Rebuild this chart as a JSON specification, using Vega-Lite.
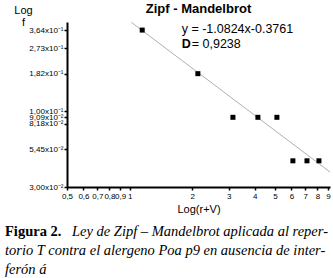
{
  "$schema": "https://vega.github.io/schema/vega-lite/v6.json",
  "padding": {"left": 5, "top": 3, "right": 0, "bottom": 0},
  "background": "white",
  "config": {"view": {"stroke": null}, "font": "Liberation Sans", "concat": {"spacing": 10}},
  "datasets": {
    "points": [
      {"x": 1.15, "f": 0.364},
      {"x": 2.13, "f": 0.182},
      {"x": 3.14, "f": 0.0909},
      {"x": 4.14, "f": 0.0909},
      {"x": 5.11, "f": 0.0909},
      {"x": 6.1, "f": 0.0455},
      {"x": 7.13, "f": 0.0455},
      {"x": 8.14, "f": 0.0455}
    ],
    "fit": [
      {"x": 1.02, "f": 0.4116},
      {"x": 9.2, "f": 0.03808}
    ],
    "eq": [
      {"x": 1.78, "f": 0.371, "t": "y = -1.0824x-0.3761"}
    ],
    "dlabel": [
      {"x": 1.78, "f": 0.293, "t": "D"}
    ],
    "dvalue": [
      {"x": 1.99, "f": 0.293, "t": "= 0,9238"}
    ],
    "cap_bold": [
      {"line": 1, "t": "Figura 2."}
    ],
    "cap_first": [
      {"line": 1, "t": "Ley de Zipf – Mandelbrot aplicada al reper-"}
    ],
    "cap_rest": [
      {"line": 2, "t": "torio T contra el alergeno Poa p9 en ausencia de inter-"},
      {"line": 3, "t": "ferón á"}
    ]
  },
  "columns": 1,
  "align": "none",
  "concat": [
    {
      "title": {"text": "Zipf - Mandelbrot", "fontSize": 13, "fontWeight": "bold", "font": "Liberation Sans", "color": "#000", "anchor": "middle", "offset": -12},
      "width": 263,
      "height": 165,
      "layer": [
        {
          "data": {"name": "fit"},
          "mark": {"type": "line", "color": "#9a9a9a", "strokeWidth": 0.8},
          "encoding": {
            "x": {
              "field": "x", "type": "quantitative",
              "scale": {"type": "log", "domain": [0.5, 9.2], "nice": false},
              "axis": {
                "title": "Log(r+V)",
                "values": [0.5, 0.6, 0.7, 0.8, 0.9, 1, 2, 3, 4, 5, 6, 7, 8, 9],
                "labelExpr": "replace(format(datum.value, '~g'), '.', ',')",
                "grid": false,
                "domainWidth": 2, "domainColor": "#000",
                "tickColor": "#000", "tickSize": 3, "tickWidth": 1.5,
                "labelFontSize": 8, "labelColor": "#000", "labelOverlap": false, "labelPadding": 2,
                "labelFlush": false,
                "titleFontSize": 11, "titleFontWeight": "normal", "titleColor": "#000", "titlePadding": 3
              }
            },
            "y": {
              "field": "f", "type": "quantitative",
              "scale": {"type": "log", "domain": [0.03, 0.414], "nice": false},
              "axis": {
                "title": ["Log", "f"],
                "titleAngle": 0, "titleAlign": "center", "titleBaseline": "alphabetic",
                "titleX": -44, "titleY": -9, "titleLineHeight": 12,
                "titleFontSize": 11, "titleFontWeight": "normal", "titleColor": "#000",
                "minExtent": 62,
                "values": [0.03, 0.0545, 0.0818, 0.0909, 0.1, 0.182, 0.273, 0.364],
                "labelExpr": "datum.value >= 0.099 ? replace(format(datum.value * 10, '.2f'), '.', ',') + 'x10⁻¹' : replace(format(datum.value * 100, '.2f'), '.', ',') + 'x10⁻²'",
                "grid": false,
                "domainWidth": 2, "domainColor": "#000",
                "tickColor": "#000", "tickSize": 3, "tickWidth": 1.5,
                "labelFontSize": 8, "labelColor": "#000", "labelOverlap": false, "labelPadding": 1,
                "labelFlush": false
              }
            }
          }
        },
        {
          "data": {"name": "points"},
          "mark": {"type": "square", "color": "#000", "filled": true, "opacity": 1, "size": 25},
          "encoding": {
            "x": {"field": "x", "type": "quantitative"},
            "y": {"field": "f", "type": "quantitative"}
          }
        },
        {
          "data": {"name": "eq"},
          "mark": {"type": "text", "align": "left", "baseline": "middle", "fontSize": 12.5, "color": "#000"},
          "encoding": {
            "x": {"field": "x", "type": "quantitative"},
            "y": {"field": "f", "type": "quantitative"},
            "text": {"field": "t"}
          }
        },
        {
          "data": {"name": "dlabel"},
          "mark": {"type": "text", "align": "left", "baseline": "middle", "fontSize": 12.5, "fontWeight": "bold", "color": "#000"},
          "encoding": {
            "x": {"field": "x", "type": "quantitative"},
            "y": {"field": "f", "type": "quantitative"},
            "text": {"field": "t"}
          }
        },
        {
          "data": {"name": "dvalue"},
          "mark": {"type": "text", "align": "left", "baseline": "middle", "fontSize": 12.5, "color": "#000"},
          "encoding": {
            "x": {"field": "x", "type": "quantitative"},
            "y": {"field": "f", "type": "quantitative"},
            "text": {"field": "t"}
          }
        }
      ]
    },
    {
      "width": 263,
      "height": 38,
      "layer": [
        {
          "data": {"name": "cap_bold"},
          "mark": {"type": "text", "align": "left", "baseline": "alphabetic", "font": "Liberation Serif", "fontSize": 14.5, "fontWeight": "bold", "color": "#000", "x": -62},
          "encoding": {
            "y": {"field": "line", "type": "quantitative", "scale": {"domain": [1, 3], "reverse": true, "nice": false, "zero": false}, "axis": null},
            "text": {"field": "t"}
          }
        },
        {
          "data": {"name": "cap_first"},
          "mark": {"type": "text", "align": "left", "baseline": "alphabetic", "font": "Liberation Serif", "fontSize": 14.5, "fontStyle": "italic", "color": "#000", "x": -62, "dx": 67},
          "encoding": {
            "y": {"field": "line", "type": "quantitative"},
            "text": {"field": "t"}
          }
        },
        {
          "data": {"name": "cap_rest"},
          "mark": {"type": "text", "align": "left", "baseline": "alphabetic", "font": "Liberation Serif", "fontSize": 14.5, "fontStyle": "italic", "color": "#000", "x": -62},
          "encoding": {
            "y": {"field": "line", "type": "quantitative"},
            "text": {"field": "t"}
          }
        }
      ]
    }
  ]
}
